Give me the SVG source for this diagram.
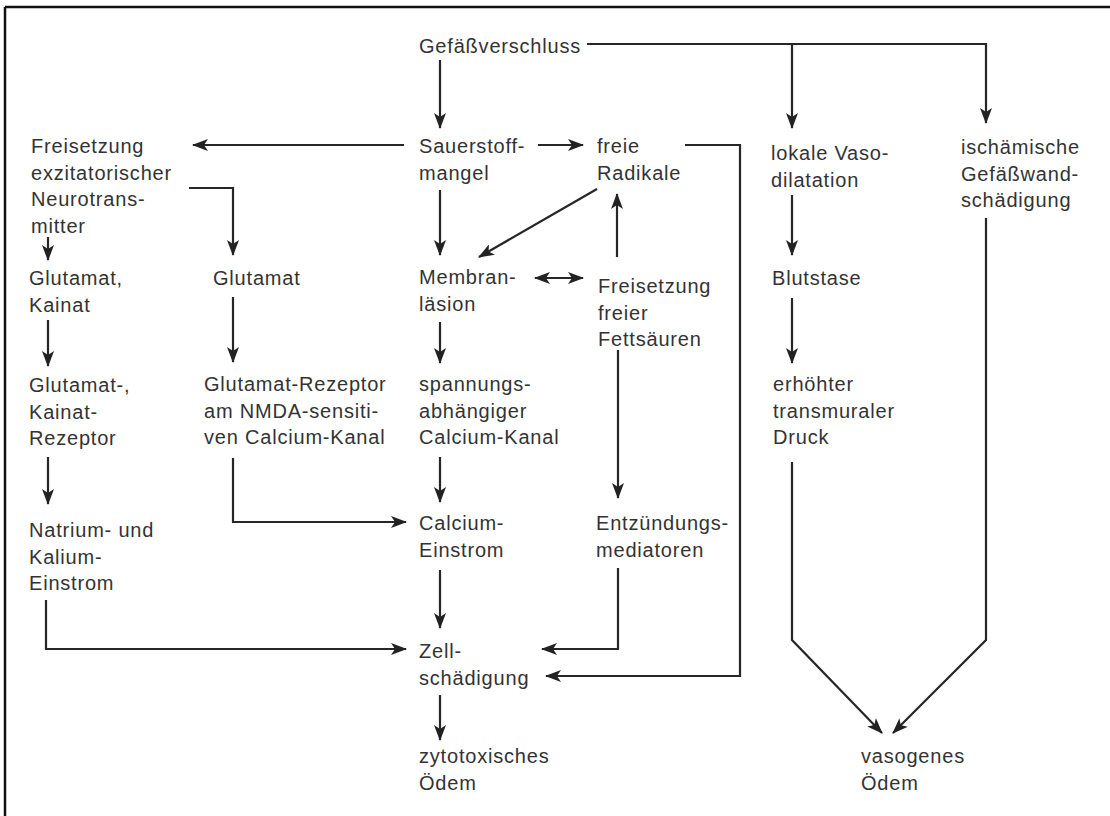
<svg xmlns="http://www.w3.org/2000/svg" width="1110" height="816" viewBox="0 0 1110 816">
<style>
.t{font-family:"Liberation Sans",Arial,sans-serif;font-size:20px;letter-spacing:0.8px;fill:#333}
.c{fill:none;stroke:#262626;stroke-width:2.2}
.frame{stroke:#111;stroke-width:2.5}
</style>
<defs>
<marker id="ah" viewBox="0 0 16 12" markerWidth="16" markerHeight="12" refX="15" refY="6" orient="auto-start-reverse" markerUnits="userSpaceOnUse">
<path d="M0,0 L16,6 L0,12 L4,6 z" fill="#222"/>
</marker>
</defs>
<rect width="1110" height="816" fill="#fff"/>
<g id="frame">
<line class="frame" x1="5" y1="7" x2="1110" y2="7"/>
<line class="frame" x1="5" y1="7" x2="5" y2="816"/>
</g>
<g id="connectors">
<path class="c" d="M440,60 V128" marker-end="url(#ah)"/>
<path class="c" d="M587,44 H986 V123" marker-end="url(#ah)"/>
<path class="c" d="M792,44 V128" marker-end="url(#ah)"/>
<path class="c" d="M404,145 H193" marker-end="url(#ah)"/>
<path class="c" d="M538,145 H583" marker-end="url(#ah)"/>
<path class="c" d="M440,190 V255" marker-end="url(#ah)"/>
<path class="c" d="M189,188 H233 V255" marker-end="url(#ah)"/>
<path class="c" d="M48,237 V260" marker-end="url(#ah)"/>
<path class="c" d="M48,320 V366" marker-end="url(#ah)"/>
<path class="c" d="M233,297 V362" marker-end="url(#ah)"/>
<path class="c" d="M48,457 V504" marker-end="url(#ah)"/>
<path class="c" d="M233,458 V522 H406" marker-end="url(#ah)"/>
<path class="c" d="M46,600 V649 H406" marker-end="url(#ah)"/>
<path class="c" d="M440,322 V363" marker-end="url(#ah)"/>
<path class="c" d="M440,457 V502" marker-end="url(#ah)"/>
<path class="c" d="M440,570 V628" marker-end="url(#ah)"/>
<path class="c" d="M440,695 V740" marker-end="url(#ah)"/>
<path class="c" d="M597,189 L479,257" marker-end="url(#ah)"/>
<path class="c" d="M535,278 H583" marker-start="url(#ah)" marker-end="url(#ah)"/>
<path class="c" d="M617,257 V194" marker-end="url(#ah)"/>
<path class="c" d="M618,350 V498" marker-end="url(#ah)"/>
<path class="c" d="M618,568 V649 H542" marker-end="url(#ah)"/>
<path class="c" d="M685,145 H740 V676 H546" marker-end="url(#ah)"/>
<path class="c" d="M792,195 V255" marker-end="url(#ah)"/>
<path class="c" d="M792,298 V363" marker-end="url(#ah)"/>
<path class="c" d="M792,462 V640 L882,733" marker-end="url(#ah)"/>
<path class="c" d="M986,218 V640 L893,733" marker-end="url(#ah)"/>
</g>
<g id="n-gefaessverschluss"><text class="t" x="419" y="53">Gefäßverschluss</text></g>
<g id="n-sauerstoffmangel"><text class="t" x="419" y="153"><tspan x="419">Sauerstoff-</tspan><tspan x="419" dy="26.5">mangel</tspan></text></g>
<g id="n-freisetzung-neurotransmitter"><text class="t" x="31" y="153"><tspan x="31">Freisetzung</tspan><tspan x="31" dy="26.5">exzitatorischer</tspan><tspan x="31" dy="26.5">Neurotrans-</tspan><tspan x="31" dy="26.5">mitter</tspan></text></g>
<g id="n-glutamat-kainat"><text class="t" x="29" y="285"><tspan x="29">Glutamat,</tspan><tspan x="29" dy="26.5">Kainat</tspan></text></g>
<g id="n-glutamat"><text class="t" x="213" y="285">Glutamat</text></g>
<g id="n-glutamat-kainat-rezeptor"><text class="t" x="29" y="392"><tspan x="29">Glutamat-,</tspan><tspan x="29" dy="26.5">Kainat-</tspan><tspan x="29" dy="26.5">Rezeptor</tspan></text></g>
<g id="n-glutamat-rezeptor-nmda"><text class="t" x="204" y="391"><tspan x="204">Glutamat-Rezeptor</tspan><tspan x="204" dy="26.5">am NMDA-sensiti-</tspan><tspan x="204" dy="26.5">ven Calcium-Kanal</tspan></text></g>
<g id="n-natrium-kalium"><text class="t" x="29" y="537"><tspan x="29">Natrium- und</tspan><tspan x="29" dy="26.5">Kalium-</tspan><tspan x="29" dy="26.5">Einstrom</tspan></text></g>
<g id="n-membranlaesion"><text class="t" x="419" y="284"><tspan x="419">Membran-</tspan><tspan x="419" dy="26.5">läsion</tspan></text></g>
<g id="n-spannungskanal"><text class="t" x="419" y="391"><tspan x="419">spannungs-</tspan><tspan x="419" dy="26.5">abhängiger</tspan><tspan x="419" dy="26.5">Calcium-Kanal</tspan></text></g>
<g id="n-calcium-einstrom"><text class="t" x="419" y="530"><tspan x="419">Calcium-</tspan><tspan x="419" dy="26.5">Einstrom</tspan></text></g>
<g id="n-zellschaedigung"><text class="t" x="419" y="658"><tspan x="419">Zell-</tspan><tspan x="419" dy="26.5">schädigung</tspan></text></g>
<g id="n-zytotoxisch"><text class="t" x="419" y="763"><tspan x="419">zytotoxisches</tspan><tspan x="419" dy="26.5">Ödem</tspan></text></g>
<g id="n-radikale"><text class="t" x="597" y="153"><tspan x="597">freie</tspan><tspan x="597" dy="26.5">Radikale</tspan></text></g>
<g id="n-fettsaeuren"><text class="t" x="598" y="293"><tspan x="598">Freisetzung</tspan><tspan x="598" dy="26.5">freier</tspan><tspan x="598" dy="26.5">Fettsäuren</tspan></text></g>
<g id="n-entzuendung"><text class="t" x="596" y="530"><tspan x="596">Entzündungs-</tspan><tspan x="596" dy="26.5">mediatoren</tspan></text></g>
<g id="n-vasodilatation"><text class="t" x="771" y="160"><tspan x="771">lokale Vaso-</tspan><tspan x="771" dy="26.5">dilatation</tspan></text></g>
<g id="n-blutstase"><text class="t" x="772" y="285">Blutstase</text></g>
<g id="n-druck"><text class="t" x="773" y="391"><tspan x="773">erhöhter</tspan><tspan x="773" dy="26.5">transmuraler</tspan><tspan x="773" dy="26.5">Druck</tspan></text></g>
<g id="n-gefaesswand"><text class="t" x="961" y="154"><tspan x="961">ischämische</tspan><tspan x="961" dy="26.5">Gefäßwand-</tspan><tspan x="961" dy="26.5">schädigung</tspan></text></g>
<g id="n-vasogen"><text class="t" x="861" y="763"><tspan x="861">vasogenes</tspan><tspan x="861" dy="26.5">Ödem</tspan></text></g>
</svg>
